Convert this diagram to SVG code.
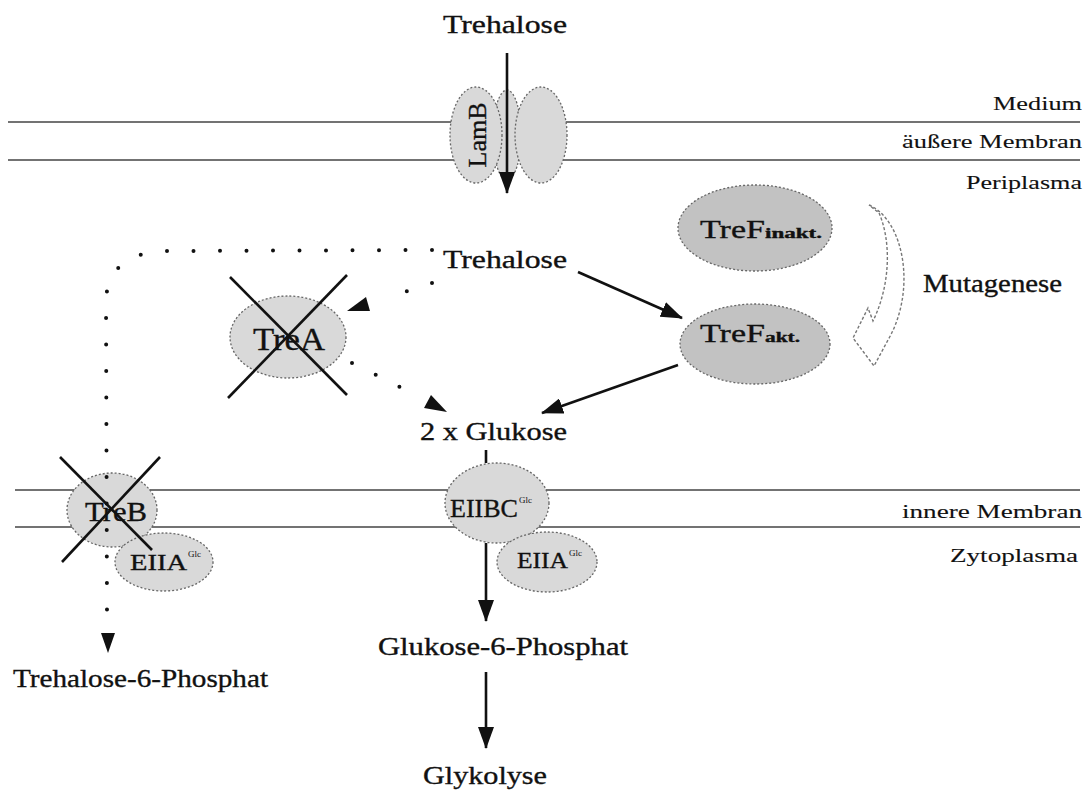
<svg xmlns="http://www.w3.org/2000/svg" width="1085" height="798" viewBox="0 0 1085 798">
<style>
text{font-family:"Liberation Serif","Times New Roman",serif;fill:#111;stroke:#111;stroke-width:0.35}
.mem{stroke:#444;stroke-width:1.6;fill:none}
.prot{fill:#d9d9d9;stroke:#666;stroke-width:1.3;stroke-dasharray:2 2}
.dark{fill:#c2c2c2;stroke:#666;stroke-width:1.3;stroke-dasharray:2 2}
.arr{stroke:#111;stroke-width:2.6;fill:none}
.dot{stroke:#111;stroke-width:4;fill:none;stroke-dasharray:0 26.5;stroke-linecap:round}
.cross{stroke:#111;stroke-width:2.6}
.lbl{font-size:26px}
.side{font-size:19px;stroke-width:0.1}
.sup{font-size:9px;stroke-width:0}
</style>
<defs>
<marker id="ah" markerUnits="userSpaceOnUse" markerWidth="22" markerHeight="16" refX="21" refY="8" orient="auto">
<path d="M0,0 L22,8 L0,16 Z" fill="#111"/>
</marker>
</defs>
<g id="membranes">
<line class="mem" x1="8" y1="122" x2="1080" y2="122"/>
<line class="mem" x1="8" y1="160" x2="1080" y2="160"/>
<line class="mem" x1="15" y1="490" x2="1080" y2="490"/>
<line class="mem" x1="15" y1="527" x2="1080" y2="527"/>
<text class="side" x="1082" y="110" text-anchor="end" textLength="89" lengthAdjust="spacingAndGlyphs">Medium</text>
<text class="side" x="1082" y="148" text-anchor="end" textLength="180" lengthAdjust="spacingAndGlyphs">äußere Membran</text>
<text class="side" x="1082" y="189" text-anchor="end" textLength="116" lengthAdjust="spacingAndGlyphs">Periplasma</text>
<text class="side" x="1082" y="518" text-anchor="end" textLength="180" lengthAdjust="spacingAndGlyphs">innere Membran</text>
<text class="side" x="1078" y="562" text-anchor="end" textLength="128" lengthAdjust="spacingAndGlyphs">Zytoplasma</text>
</g>
<g id="trehalose-out"><text class="lbl" x="443" y="33" textLength="124" lengthAdjust="spacingAndGlyphs">Trehalose</text></g>
<g id="lamb">
<ellipse class="prot" cx="507" cy="135" rx="14" ry="45"/>
<ellipse class="prot" cx="541" cy="135" rx="26" ry="48"/>
<ellipse class="prot" cx="476" cy="135" rx="26" ry="48"/>
<text class="lbl" transform="translate(486,135) rotate(-90)" x="0" y="0" text-anchor="middle" font-size="24">LamB</text>
</g>
<g id="trehalose-peri"><text class="lbl" x="443" y="268" textLength="124" lengthAdjust="spacingAndGlyphs">Trehalose</text></g>
<g id="tref-inakt">
<ellipse class="dark" cx="755" cy="228" rx="77" ry="43"/>
<text class="lbl" x="700" y="238" textLength="65" lengthAdjust="spacingAndGlyphs">TreF</text>
<text x="765" y="238" font-size="14" font-weight="bold" textLength="57" lengthAdjust="spacingAndGlyphs">inakt.</text>
</g>
<g id="tref-akt">
<ellipse class="dark" cx="755" cy="344" rx="75" ry="40"/>
<text class="lbl" x="700" y="342" textLength="65" lengthAdjust="spacingAndGlyphs">TreF</text>
<text x="765" y="342" font-size="14" font-weight="bold" textLength="35" lengthAdjust="spacingAndGlyphs">akt.</text>
</g>
<g id="mutagenese">
<path d="M 869,205 C 904,220 917,290 888,340 L 874,366 L 853,338 L 868,308 L 873,321 C 891,284 891,240 879,213 Z" fill="#fff" stroke="#777" stroke-width="1.4" stroke-dasharray="3 2"/>
<text class="lbl" x="923" y="292" textLength="139" lengthAdjust="spacingAndGlyphs">Mutagenese</text>
</g>
<g id="trea">
<ellipse class="prot" cx="288" cy="337" rx="58" ry="41"/>
<text x="253" y="350" font-size="31" textLength="72" lengthAdjust="spacingAndGlyphs">TreA</text>
<line class="cross" x1="230" y1="277" x2="347" y2="395"/>
<line class="cross" x1="347" y1="275" x2="228" y2="398"/>
</g>
<g id="glukose"><text class="lbl" x="420" y="440" textLength="147" lengthAdjust="spacingAndGlyphs">2 x Glukose</text></g>
<g id="treb">
<ellipse class="prot" cx="112" cy="510" rx="45" ry="37"/>
<text x="85" y="521" font-size="28" textLength="62" lengthAdjust="spacingAndGlyphs">TreB</text>
</g>
<g id="eiia-left">
<ellipse class="prot" cx="164" cy="562" rx="49" ry="29"/>
<text x="130" y="570" font-size="24" textLength="57" lengthAdjust="spacingAndGlyphs">EIIA</text>
<text class="sup" x="188" y="557">Glc</text>
</g>
<g id="treb-cross">
<line class="cross" x1="60" y1="457" x2="152" y2="550"/>
<line class="cross" x1="160" y1="457" x2="62" y2="562"/>
</g>
<g id="eiibc">
<ellipse class="prot" cx="497" cy="503" rx="52" ry="40"/>
<text x="450" y="517" font-size="26" textLength="68" lengthAdjust="spacingAndGlyphs">EIIBC</text>
<text class="sup" x="519" y="503">Glc</text>
</g>
<g id="eiia-right">
<ellipse class="prot" cx="547" cy="562" rx="50" ry="30"/>
<text x="517" y="568" font-size="24" textLength="51" lengthAdjust="spacingAndGlyphs">EIIA</text>
<text class="sup" x="569" y="556">Glc</text>
</g>
<g id="g6p"><text class="lbl" x="378" y="655" font-size="27" textLength="250" lengthAdjust="spacingAndGlyphs">Glukose-6-Phosphat</text></g>
<g id="glykolyse"><text class="lbl" x="423" y="784" textLength="124" lengthAdjust="spacingAndGlyphs">Glykolyse</text></g>
<g id="t6p"><text class="lbl" x="13" y="687" textLength="255" lengthAdjust="spacingAndGlyphs">Trehalose-6-Phosphat</text></g>
<g id="connectors">
<line class="arr" x1="507" y1="53" x2="507" y2="193" marker-end="url(#ah)"/>
<line class="arr" x1="578" y1="272" x2="682" y2="318" marker-end="url(#ah)"/>
<line class="arr" x1="678" y1="365" x2="542" y2="413" marker-end="url(#ah)"/>
<line class="arr" x1="486" y1="450" x2="486" y2="463"/>
<line class="arr" x1="486" y1="543" x2="486" y2="621" marker-end="url(#ah)"/>
<line class="arr" x1="486" y1="672" x2="486" y2="748" marker-end="url(#ah)"/>
<path class="dot" d="M 432,250 L 160,251 Q 108,256 106,300 L 107,612"/>
<polygon points="101,633 115,633 108,653" fill="#111"/>
<path class="dot" d="M 432,283 L 383,299"/>
<polygon points="347,311 370,311 366,297" fill="#111"/>
<path class="dot" d="M 352,363 L 422,398"/>
<polygon points="447,412 424,408 431,395" fill="#111"/>
</g>
</svg>
